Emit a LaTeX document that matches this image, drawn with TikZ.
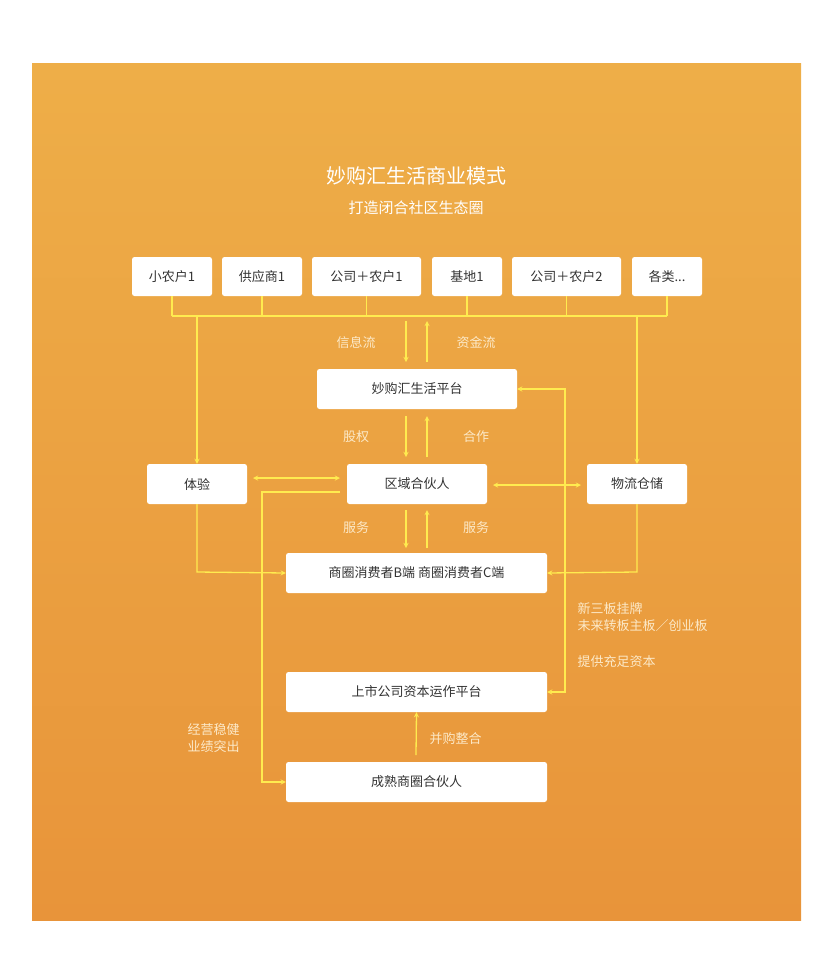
\documentclass[tikz,border=0pt]{standalone}
\usepackage{fontspec}
\setmainfont{Noto Sans CJK SC}
\definecolor{bgtop}{HTML}{EEAE48}
\definecolor{bgbot}{HTML}{E8943A}
\definecolor{flow}{HTML}{FFEB4F}
\definecolor{lbl}{HTML}{FCE9C8}
\definecolor{ink}{HTML}{333333}
\tikzset{
  card/.style={draw=none, fill=white, rounded corners=2.5pt, text=ink, font=\fontsize{13}{15}\selectfont},
  link/.style={draw=flow, line width=1.3pt},
  note/.style={text=lbl, font=\fontsize{13}{17}\selectfont}
}
\begin{document}
\begin{tikzpicture}[x=1pt, y=-1pt, >=stealth]
\useasboundingbox (0,0) rectangle (830,970);
\shade[top color=bgtop, bottom color=bgbot] (32,63) rectangle (801,920);
\node[text=white, font=\fontsize{20}{24}\selectfont] (title) at (416,176) {妙购汇生活商业模式};
\node[text=white, font=\fontsize{15}{18}\selectfont] (sub) at (416,208) {打造闭合社区生态圈};
% top row
\node[card, minimum width=80pt, minimum height=39pt] (s1) at (172,276.5) {小农户1};
\node[card, minimum width=80pt, minimum height=39pt] (s2) at (262,276.5) {供应商1};
\node[card, minimum width=109pt, minimum height=39pt] (s3) at (366.5,276.5) {公司＋农户1};
\node[card, minimum width=70pt, minimum height=39pt] (s4) at (467,276.5) {基地1};
\node[card, minimum width=109pt, minimum height=39pt] (s5) at (566.5,276.5) {公司＋农户2};
\node[card, minimum width=70pt, minimum height=39pt] (s6) at (667,276.5) {各类...};
% main boxes
\node[card, minimum width=200pt, minimum height=40pt] (plat) at (417,389) {妙购汇生活平台};
\node[card, minimum width=100pt, minimum height=40pt] (exp) at (197,484) {体验};
\node[card, minimum width=140pt, minimum height=40pt] (part) at (417,484) {区域合伙人};
\node[card, minimum width=100pt, minimum height=40pt] (log) at (637,484) {物流仓储};
\node[card, minimum width=261pt, minimum height=40pt] (cons) at (416.5,573) {商圈消费者B端 商圈消费者C端};
\node[card, minimum width=261pt, minimum height=40pt] (list) at (416.5,692) {上市公司资本运作平台};
\node[card, minimum width=261pt, minimum height=40pt] (ripe) at (416.5,782) {成熟商圈合伙人};
% bus
\coordinate (busL) at (172,316);
\coordinate (busR) at (667,316);
\draw[link] (busL) -- (busR);
\foreach \s in {s1,s2,s3,s4,s5,s6}
  \draw[link] (\s.south) -- (\s.south |- busL);
\draw[link,->] (197,316) -- (exp.north);
\draw[link,->] (637,316) -- (log.north);
\draw[link,->] (406,321) -- (406,362);
\draw[link,->] (427,362) -- (427,321);
\draw[link,->] (406,416) -- (406,457);
\draw[link,->] (427,457) -- (427,416);
\draw[link,->] (406,510) -- (406,548);
\draw[link,->] (427,548) -- (427,510);
\draw[link,<->] (253,478) -- (340,478);
\draw[link,<->] (493,485) -- (581,485);
\draw[link,->] (340,492) -- (262,492) -- (262,782) -- (ripe.west);
\draw[link,->] (exp.south) -- (197,572) -- (cons.west);
\draw[link,->] (log.south) -- (637,572) -- (cons.east);
\draw[link,<->] (list.east) -- (565,692) -- (565,389) -- (plat.east);
\draw[link,->] (416,755) -- (list.south);
% labels
\node[note] (l1) at (356,343) {信息流};
\node[note] (l2) at (476,343) {资金流};
\node[note] (l3) at (356,437) {股权};
\node[note] (l4) at (476,437) {合作};
\node[note] (l5) at (356,528) {服务};
\node[note] (l6) at (476,528) {服务};
\node[note, anchor=west, align=left] (l7) at (574,617) {新三板挂牌\\未来转板主板／创业板};
\node[note, anchor=west] (l8) at (574,662) {提供充足资本};
\node[note, anchor=west, align=left] (l9) at (184,738) {经营稳健\\业绩突出};
\node[note, anchor=west] (l10) at (426,739) {并购整合};
\end{tikzpicture}
\end{document}
